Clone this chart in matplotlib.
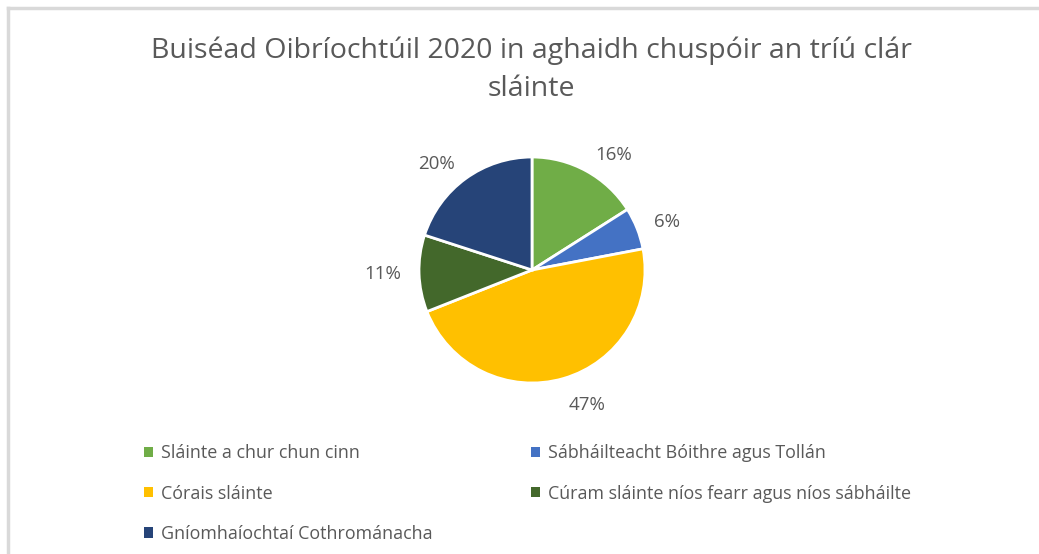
import numpy as np
import matplotlib.pyplot as plt
from matplotlib.patches import Patch
from matplotlib.lines import Line2D

labels = ["Sláinte a chur chun cinn", "Sábháilteacht Bóithre agus Tollán",
          "Córais sláinte", "Cúram sláinte níos fearr agus níos sábháilte",
          "Gníomhaíochtaí Cothrománacha"]
shares = [16, 6, 47, 11, 20]
colors = ["#70AD47", "#4472C4", "#FFC000", "#43682B", "#264478"]

plt.rcParams['font.family'] = ['Open Sans', 'DejaVu Sans']
txt = "#595959"

W, H = 1039, 554
fig = plt.figure(figsize=(W / 100, H / 100), dpi=100)

# chart frame (top and left edges visible)
fig.add_artist(Line2D([8 / W, 8 / W], [0, 1 - 8 / H], color="#d9d9d9", lw=2.5))
fig.add_artist(Line2D([8 / W, 1], [1 - 8 / H, 1 - 8 / H], color="#d9d9d9", lw=2.5))

fig.text(531 / W, 1 - 70 / H, "Buiséad Oibríochtúil 2020 in aghaidh chuspóir an tríú clár\nsláinte",
         ha="center", va="center", fontsize=20.5, color=txt, linespacing=1.5)

cx, cy, r = 532, 554 - 270, 113
s = 1.5 * r
ax = fig.add_axes([(cx - s) / W, (cy - s) / H, 2 * s / W, 2 * s / H])
wedges, _, autotexts = ax.pie(shares, colors=colors, startangle=90, counterclock=False,
                              autopct="%d%%", pctdistance=1.2,
                              wedgeprops=dict(edgecolor="white", linewidth=2),
                              textprops=dict(color=txt, fontsize=13.5))
# outside-end labels, anchored on the side facing away from the pie
for w, t in zip(wedges, autotexts):
    a = np.deg2rad((w.theta1 + w.theta2) / 2)
    t.set_position((1.16 * np.cos(a), 1.16 * np.sin(a)))
    t.set_ha("left" if np.cos(a) > 0 else "right")
    t.set_va("top" if np.sin(a) < -0.8 else "center")
ax.set_xlim(-1.5, 1.5)
ax.set_ylim(-1.5, 1.5)
ax.set_aspect("equal")

order = [0, 2, 4, 1, 3]  # row-major filling of a two-column legend
handles = [Patch(facecolor=colors[i]) for i in order]
fig.legend(handles, [labels[i] for i in order], ncol=2, loc="upper left",
           bbox_to_anchor=(128 / W, 1 - 428 / H),
           frameon=False, fontsize=12.9, labelcolor=txt, handlelength=0.5, handleheight=0.5,
           handletextpad=0.45, columnspacing=5.5, labelspacing=1.25)

fig.savefig("out.png", dpi=100)
